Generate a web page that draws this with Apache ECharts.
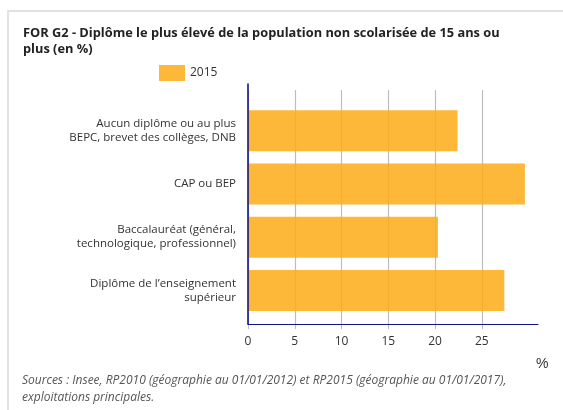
<!DOCTYPE html>
<html>
<head>
<meta charset="utf-8">
<script src="https://cdn.jsdelivr.net/npm/echarts@6/dist/echarts.min.js"></script>
<style>
  html, body { margin: 0; padding: 0; background: #fff; }
  #chart { width: 563px; height: 410px; }
</style>
</head>
<body>
<div id="chart"></div>
<script>
// data
var categories = [
  'Aucun diplôme ou au plus\nBEPC, brevet des collèges, DNB',
  'CAP ou BEP',
  'Baccalauréat (général,\ntechnologique, professionnel)',
  'Diplôme de l\u2019enseignement\nsupérieur'
];
var values2015 = [22.4, 29.6, 20.3, 27.4];
var seriesName = '2015';
var axisMax = 31;      // end of the drawn axis line
var tickMax = 25;      // last labelled tick
var tickStep = 5;

var titleText = 'FOR G2 - Diplôme le plus élevé de la population non scolarisée de 15 ans ou\nplus (en %)';
var sourceText = 'Sources : Insee, RP2010 (géographie au 01/01/2012) et RP2015 (géographie au 01/01/2017),\nexploitations principales.';

var FONT = '"Open Sans", sans-serif';
var NAVY = '#14148a';
var GRIDC = '#bdbdbd';

var chart = echarts.init(document.getElementById('chart'), null, { renderer: 'canvas' });

// px per unit so that tick grid lines up with the bar grid
var plotLeft = 248, plotRight = 538;
var unitPx = (plotRight - plotLeft) / axisMax;

chart.setOption({
  animation: false,
  textStyle: { fontFamily: FONT },
  title: {
    text: titleText,
    left: 23,
    top: 25,
    padding: 0,
    textStyle: { fontSize: 12.8, fontWeight: 'bold', color: '#222', lineHeight: 16, fontFamily: FONT }
  },
  legend: {
    data: [seriesName],
    left: 159,
    top: 65,
    padding: 0,
    icon: 'rect',
    itemWidth: 26,
    itemHeight: 16,
    itemGap: 6,
    textStyle: { fontSize: 12, color: '#333', fontFamily: FONT }
  },
  graphic: [
    {
      type: 'rect', z: -10, silent: true,
      shape: { x: 8, y: 11, width: 600, height: 450 },
      style: { fill: 'none', stroke: '#e2e2e2', lineWidth: 2 }
    },
    {
      type: 'text', left: 536, top: 357,
      style: { text: '%', fontSize: 14, fill: '#333', font: '14px ' + FONT }
    },
    {
      type: 'text', left: 22, top: 372,
      style: { text: sourceText, fill: '#555', font: 'italic 12px ' + FONT, lineHeight: 17 }
    }
  ],
  grid: [
    // bars
    { left: plotLeft, right: 563 - plotRight, top: 104, bottom: 93 },
    // axis frame lines
    { left: plotLeft, right: 563 - plotRight, top: 84, bottom: 86 },
    // tick labels and grid lines, 0..25
    { left: plotLeft, width: unitPx * tickMax, top: 90, bottom: 86 }
  ],
  xAxis: [
    { gridIndex: 0, type: 'value', min: 0, max: axisMax, show: false },
    {
      gridIndex: 1, type: 'value', min: 0, max: axisMax, z: 10,
      axisLine: { show: true, lineStyle: { color: NAVY, width: 1.2 } },
      axisTick: { show: false }, axisLabel: { show: false }, splitLine: { show: false }
    },
    {
      gridIndex: 2, type: 'value', min: 0, max: tickMax, interval: tickStep,
      axisLine: { show: false },
      axisTick: { show: true, length: 5, lineStyle: { color: GRIDC } },
      axisLabel: { fontSize: 12, color: '#333', margin: 12, fontFamily: FONT },
      splitLine: { show: true, lineStyle: { color: GRIDC, width: 1.2 } }
    }
  ],
  yAxis: [
    {
      gridIndex: 0, type: 'category', inverse: true, data: categories,
      axisLine: { show: false }, axisTick: { show: false },
      axisLabel: { fontSize: 11.5, color: '#333', lineHeight: 14, margin: 12, align: 'right', fontFamily: FONT }
    },
    {
      gridIndex: 1, type: 'value', z: 10,
      axisLine: { show: true, lineStyle: { color: NAVY, width: 1.6 } },
      axisTick: { show: false }, axisLabel: { show: false }, splitLine: { show: false }
    },
    { gridIndex: 2, type: 'value', show: false }
  ],
  series: [
    {
      name: seriesName,
      type: 'bar',
      xAxisIndex: 0,
      yAxisIndex: 0,
      data: values2015,
      barWidth: 41,
      itemStyle: { color: 'rgba(253,172,24,0.86)' }
    }
  ]
});
</script>
</body>
</html>
